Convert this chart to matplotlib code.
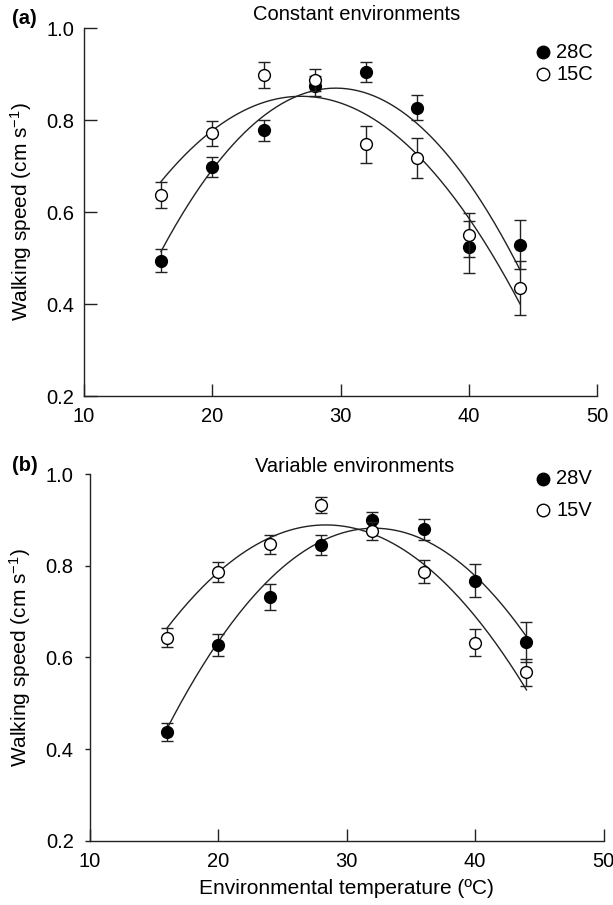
import numpy as np
import matplotlib
matplotlib.use("Agg")
import matplotlib.pyplot as plt

plt.rcParams['font.family'] = ['Liberation Sans', 'DejaVu Sans']
plt.rcParams['mathtext.fontset'] = 'custom'
plt.rcParams['mathtext.rm'] = 'Liberation Sans'
plt.rcParams['mathtext.it'] = 'Liberation Sans'

temps = [16, 20, 24, 28, 32, 36, 40, 44]

# Panel (a): constant environments
c28_mean = [0.494, 0.698, 0.778, 0.874, 0.904, 0.827, 0.524, 0.529]
c28_err = [0.025, 0.022, 0.023, 0.022, 0.021, 0.027, 0.056, 0.053]
c15_mean = [0.637, 0.771, 0.897, 0.887, 0.747, 0.717, 0.550, 0.435]
c15_err = [0.029, 0.027, 0.028, 0.023, 0.040, 0.044, 0.048, 0.058]

# Panel (b): variable environments
v28_mean = [0.437, 0.626, 0.732, 0.845, 0.900, 0.879, 0.767, 0.634]
v28_err = [0.019, 0.024, 0.029, 0.022, 0.017, 0.022, 0.036, 0.044]
v15_mean = [0.643, 0.787, 0.847, 0.932, 0.876, 0.787, 0.632, 0.567]
v15_err = [0.021, 0.022, 0.021, 0.017, 0.020, 0.025, 0.029, 0.030]

# Fitted quadratic curves, values at x = 16, 30, 44
fit_x = [16, 30, 44]
fit_c28 = [0.514, 0.869, 0.474]
fit_c15 = [0.666, 0.837, 0.400]
fit_v28 = [0.443, 0.874, 0.645]
fit_v15 = [0.663, 0.885, 0.529]

xticks = [10, 20, 30, 40, 50]
yticks = [0.2, 0.4, 0.6, 0.8, 1.0]

W, H = 613, 905
fig = plt.figure(figsize=(W / 100, H / 100), dpi=100)

def fig_rect(l, t, r, b):
    return [l / W, 1 - b / H, (r - l) / W, (b - t) / H]

ax_a = fig.add_axes(fig_rect(84, 28, 597, 396))
ax_b = fig.add_axes(fig_rect(89.6, 474, 603.6, 840.7))

FS = 14.5
LC = '#222222'

def draw(ax, m_fill, e_fill, m_open, e_open, f_fill, f_open, ytick_dir, ytick_len, ypad):
    xs = np.linspace(16, 44, 200)
    for fy in (f_fill, f_open):
        coef = np.polyfit(fit_x, fy, 2)
        ax.plot(xs, np.polyval(coef, xs), color=LC, lw=1.0, zorder=2)
    ax.errorbar(temps, m_fill, yerr=e_fill, fmt='o', ms=8.5, mfc='black', mec='black',
                ecolor=LC, elinewidth=1.0, capsize=4.5, capthick=1.0, zorder=3)
    ax.errorbar(temps, m_open, yerr=e_open, fmt='o', ms=8.5, mfc='white', mec='black', mew=1.0,
                ecolor=LC, elinewidth=1.0, capsize=4.5, capthick=1.0, zorder=4)
    ax.set_xlim(10, 50)
    ax.set_ylim(0.2, 1.0)
    ax.set_xticks(xticks)
    ax.set_yticks(yticks)
    ax.set_xticklabels([str(v) for v in xticks], fontsize=FS)
    ax.set_yticklabels(['%.1f' % v for v in yticks], fontsize=FS)
    for s in ('top', 'right'):
        ax.spines[s].set_visible(False)
    for s in ('left', 'bottom'):
        ax.spines[s].set_linewidth(1.0)
        ax.spines[s].set_color(LC)
    ax.tick_params(axis='x', direction='in', length=9, width=1.0, color=LC, pad=8)
    ax.tick_params(axis='y', direction=ytick_dir, length=ytick_len, width=1.0, color=LC, pad=ypad)
    ax.set_ylabel(r'Walking speed (cm s$^{-1}$)', fontsize=FS + 0.5, labelpad=9)
    ax.patch.set_alpha(0)

draw(ax_a, c28_mean, c28_err, c15_mean, c15_err, fit_c28, fit_c15, 'in', 9, 7)
draw(ax_b, v28_mean, v28_err, v15_mean, v15_err, fit_v28, fit_v15, 'out', 3.5, 8)

ax_b.set_xlabel('Environmental temperature (ºC)', fontsize=FS + 0.5, labelpad=6)

# Panel letters and titles
fig.text(12 / W, 1 - 18 / H, '(a)', fontsize=FS, fontweight='bold', va='center', ha='left')
fig.text(357 / W, 1 - 14 / H, 'Constant environments', fontsize=FS, va='center', ha='center')
fig.text(12 / W, 1 - 465 / H, '(b)', fontsize=FS, fontweight='bold', va='center', ha='left')
fig.text(355 / W, 1 - 466 / H, 'Variable environments', fontsize=FS, va='center', ha='center')

# Legends (manual)
def legend(y1, y2, lab1, lab2):
    fig.lines.append(matplotlib.lines.Line2D([543 / W], [1 - y1 / H], marker='o', ms=9,
                                             mfc='black', mec='black', transform=fig.transFigure))
    fig.lines.append(matplotlib.lines.Line2D([543 / W], [1 - y2 / H], marker='o', ms=9,
                                             mfc='white', mec='black', mew=1.0, transform=fig.transFigure))
    fig.text(556 / W, 1 - y1 / H, lab1, fontsize=FS, va='center', ha='left')
    fig.text(556 / W, 1 - y2 / H, lab2, fontsize=FS, va='center', ha='left')

legend(52, 74, '28C', '15C')
legend(479, 510, '28V', '15V')

fig.savefig('out.png', dpi=100)
